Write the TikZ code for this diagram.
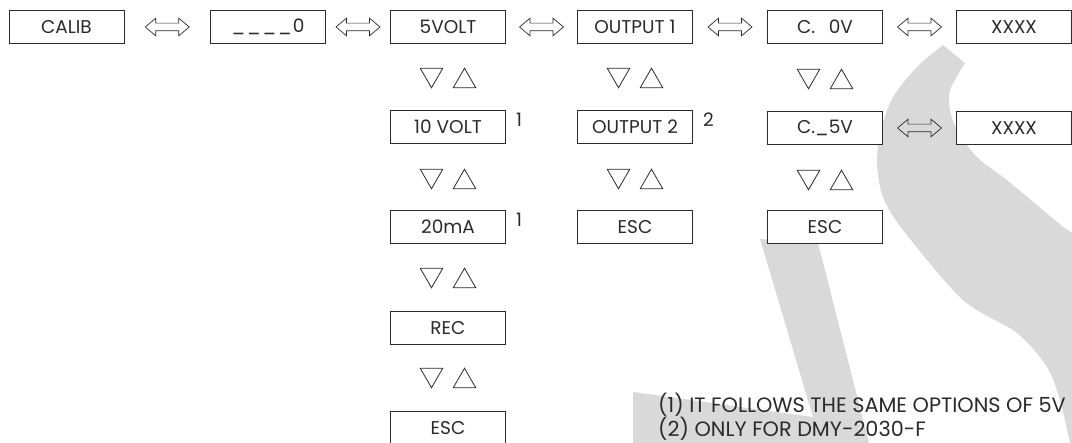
\documentclass[tikz,border=0pt]{standalone}
\usepackage{fontspec}
\setmainfont{Poppins}
\usetikzlibrary{calc,shapes.geometric,shapes.arrows}
\definecolor{ink}{HTML}{2A2A2A}
\definecolor{wmark}{HTML}{D9D9D9}

\begin{document}
\begin{tikzpicture}[x=1pt,y=-1pt,font=\fontsize{18.5}{20}\selectfont,
  box/.style={draw=ink,fill=white,line width=.9pt,minimum width=115pt,minimum height=33pt,inner sep=0pt,text=ink},
  swap/.style={double arrow,draw=ink,line width=.7pt,text height=3.5pt,text depth=3.5pt,minimum height=44pt,double arrow head extend=5pt,double arrow tip angle=80,inner sep=0pt},
  tri/.style={regular polygon,regular polygon sides=3,draw=ink,line width=.8pt,minimum size=26pt,inner sep=0pt},
  fn/.style={text=ink,inner sep=0pt}]
 \useasboundingbox (0,0) rectangle (1072,443);
 \clip (0,0) rectangle (1072,443);
 % watermark behind the menu
 \fill[wmark] (943,45) -- plot[smooth] coordinates {(965,63) (950,90) (950,110) (958,132) (978,158) (1008,181) (1063,227)} -- (1072,233) -- (1072,443)
   -- plot[smooth] coordinates {(1070,443) (1060,400) (1047,367) (1017,333) (963,300) (903,230) (883,197) (877,163) (881,130) (893,97) (917,67) (943,45)} -- cycle;
 \fill[wmark] (760,239) -- (818,243) -- (869,443) -- (633,443) -- (633,392) -- (813,417) -- cycle;
 % first row
 \node[box] (calib) at (66.5,27) {CALIB};
 \node[box] (zero) at (268,27) {\_\kern2pt\_\kern2pt\_\kern2pt\_\kern1pt0};
 \node[box] (v5) at (448,27) {5VOLT};
 \node[box] (out1) at (635,27) {OUTPUT 1};
 \node[box] (c0) at (825,27) {C.\hphantom{\_}0V};
 \node[box] (xa) at (1014,27) {XXXX};
 % sub menus
 \node[box] (v10) at (448,127) {10 VOLT};
 \node[box] (out2) at (635,127) {OUTPUT 2};
 \node[box] (c5) at (825,128) {C.\_5V};
 \node[box] (xb) at (1014,128) {XXXX};
 \node[box] (ma20) at (448,227) {20mA};
 \node[box] (esc2) at (635,227) {ESC};
 \node[box] (esc3) at (825,227) {ESC};
 \node[box] (rec) at (448,328) {REC};
 \node[box] (esc1) at (448,428) {ESC};
 \foreach \a/\b [count=\n] in {calib/zero,zero/v5,v5/out1,out1/c0,c0/xa,c5/xb}
   \node[swap] (sw\n) at ($(\a.east)!.5!(\b.west)$) {};
 \foreach \x/\y [count=\n] in {448/78,448/179,448/278,448/378,635/78,635/179,825/79,825/180}{
   \node[tri,shape border rotate=180] (dn\n) at (\x-16.5,\y-3.25) {};
   \node[tri] (up\n) at (\x+16.5,\y+3.25) {};}
 \node[fn,anchor=north west] (m1) at ($(v10.north east)+(10,3)$) {1};
 \node[fn,anchor=north west] (m2) at ($(ma20.north east)+(10,3)$) {1};
 \node[fn,anchor=north west] (m3) at ($(out2.north east)+(10,3)$) {2};
 \node[fn,anchor=north west,align=left,font=\fontsize{20.8}{24}\selectfont] (note) at (658,393)
   {(1) IT FOLLOWS THE SAME OPTIONS OF 5V\\(2) ONLY FOR DMY-2030-F};
\end{tikzpicture}
\end{document}
